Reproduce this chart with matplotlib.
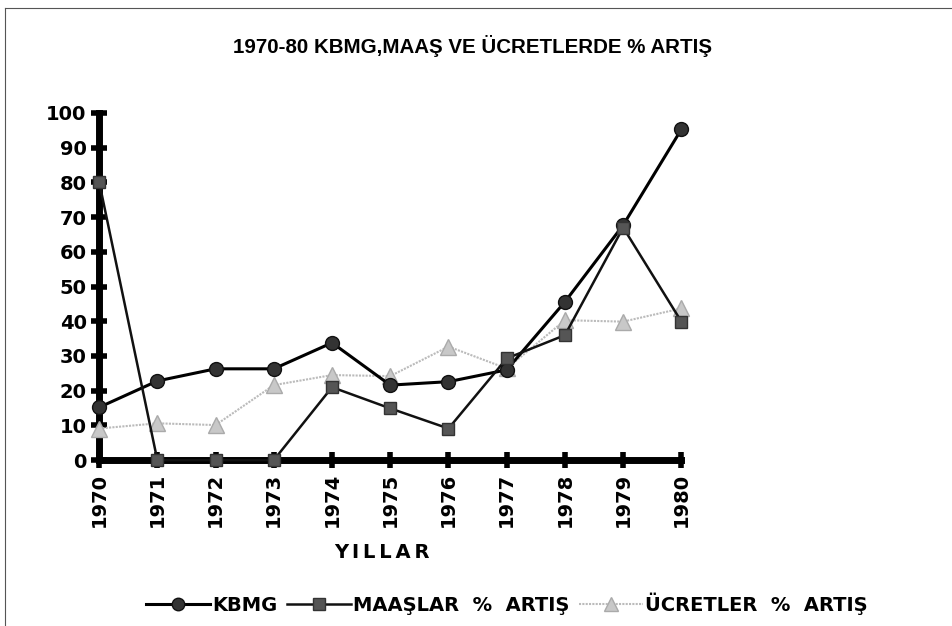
import matplotlib
matplotlib.use("Agg")
import matplotlib.pyplot as plt
from matplotlib.lines import Line2D

years = [1970, 1971, 1972, 1973, 1974, 1975, 1976, 1977, 1978, 1979, 1980]
kbmg = [15.2, 22.8, 26.3, 26.3, 33.8, 21.6, 22.6, 26.0, 45.6, 67.7, 95.3]
maaslar = [80.2, 0, 0, 0, 21.0, 14.9, 9.1, 29.3, 36.0, 67.0, 39.9]
ucretler = [9.1, 10.6, 10.1, 21.6, 24.5, 24.2, 32.7, 26.4, 40.3, 39.9, 43.7]
yticks = list(range(0, 101, 10))
title = "1970-80 KBMG,MAAŞ VE ÜCRETLERDE % ARTIŞ"
labels = ["KBMG", "MAAŞLAR  %  ARTIŞ", "ÜCRETLER  %  ARTIŞ"]
xlabel = "YILLAR"

plt.rcParams['font.family'] = ['DejaVu Sans']

fig = plt.figure(figsize=(9.53, 6.26), dpi=100)
ax = fig.add_axes([0.104, 0.265, 0.611, 0.5545])

# figure frame lines (left and top)
fig.add_artist(Line2D([5/953, 5/953], [0, 1 - 8/626], color='#555', lw=0.8, transform=fig.transFigure))
fig.add_artist(Line2D([5/953, 1], [1 - 8/626, 1 - 8/626], color='#555', lw=0.8, transform=fig.transFigure))

ax.plot(years, ucretler, color='#bbbbbb', lw=1.5, ls=(0, (1, 0.6)), marker='^', ms=11,
        mfc='#c8c8c8', mec='#aaaaaa', clip_on=False, zorder=3)
ax.plot(years, kbmg, color='black', lw=2.2, marker='o', ms=10,
        mfc='#333333', mec='#111111', clip_on=False, zorder=4)
ax.plot(years, maaslar, color='#111111', lw=1.8, marker='s', ms=9,
        mfc='#555555', mec='#333333', clip_on=False, zorder=5)

ax.set_xlim(1970, 1980)
ax.set_ylim(0, 100)
ax.set_xticks(years)
ax.set_xticklabels([str(y) for y in years], rotation=90, fontsize=14, fontweight='bold')
ax.set_yticks(yticks)
ax.set_yticklabels([str(v) for v in yticks], fontsize=14, fontweight='bold')

for s in ['top', 'right']:
    ax.spines[s].set_visible(False)
for s in ['left', 'bottom']:
    ax.spines[s].set_linewidth(5)
    ax.spines[s].set_color('black')
    ax.spines[s].set_zorder(2)
ax.tick_params(axis='both', direction='inout', length=12, width=4, color='black')
ax.tick_params(axis='y', pad=3)
ax.tick_params(axis='x', pad=3)

fig.text(382/953, 1 - 552/626, "\u2009".join(xlabel), ha='center', va='center', fontsize=14, fontweight='bold')
fig.text(473/953, 1 - 46/626, title, ha='center', va='center', fontsize=14.8, fontweight='bold',
         family='Liberation Sans')

handles = [
    Line2D([], [], color='black', lw=2.2, marker='o', ms=9, mfc='#333333', mec='#111111'),
    Line2D([], [], color='#111111', lw=1.8, marker='s', ms=8, mfc='#555555', mec='#333333'),
    Line2D([], [], color='#bbbbbb', lw=1.5, ls=(0, (1, 0.6)), marker='^', ms=10, mfc='#c8c8c8', mec='#aaaaaa'),
]
leg = fig.legend(handles, labels, loc='center', bbox_to_anchor=(507/953, 1 - 604/626), ncol=3,
                 frameon=False, prop={'size': 14, 'weight': 'bold'}, handlelength=3.3,
                 handletextpad=0.1, columnspacing=0.5)

fig.savefig("out.png", dpi=100)
